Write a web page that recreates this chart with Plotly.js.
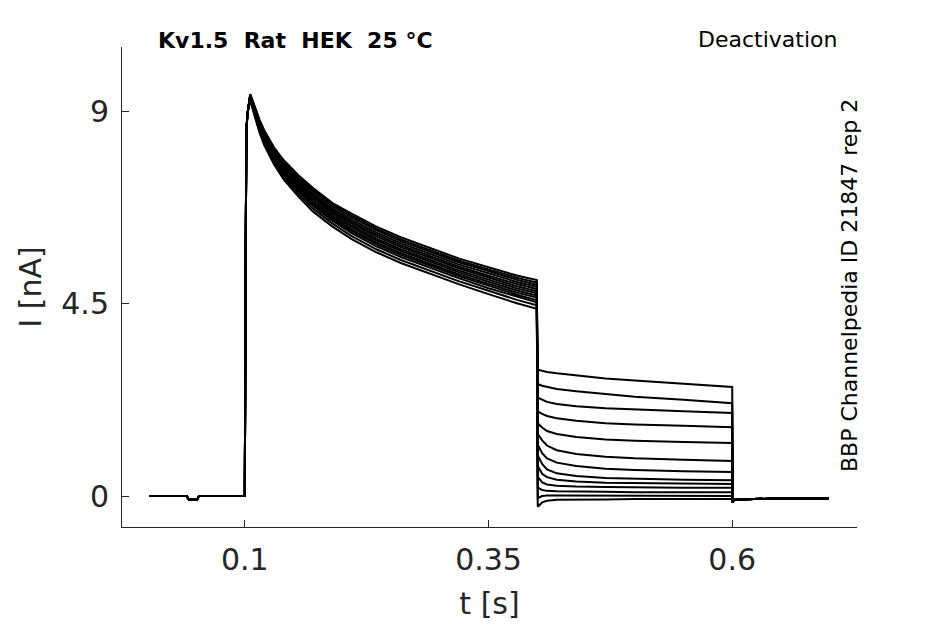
<!DOCTYPE html>
<html>
<head>
<meta charset="utf-8">
<script src="https://cdn.plot.ly/plotly-3.0.1.min.js"></script>
<style>html,body{margin:0;padding:0;background:#fff;}#chart{width:945px;height:624px;}</style>
</head>
<body>
<div id="chart"></div>
<script>
// ---- time bases (s) ----
const tBase  = [0.002, 0.040, 0.043, 0.051, 0.053, 0.0995];
const iBase  = [0, 0, -0.09, -0.09, 0, 0];
const tRise  = [0.1, 0.1005, 0.101, 0.1015, 0.1025, 0.1035, 0.1045];
const iRise  = [0, 3.5, 7.2, 8.4, 8.9, 9.1, 9.2];
const tDecay = [0.1055, 0.108, 0.111, 0.115, 0.12, 0.13, 0.14, 0.155, 0.17, 0.19, 0.21, 0.235, 0.26, 0.29, 0.32, 0.35, 0.38, 0.3995];
const tTail  = [0.4005, 0.405, 0.41, 0.42, 0.44, 0.47, 0.5, 0.55, 0.6];
const tPost  = [0.6005, 0.602, 0.65, 0.699];
const iPost  = [-0.15, -0.08, -0.06, -0.06];

// ---- decay phase currents (nA), one array per sweep ----
const decay1  = [9.33,9.16,8.94,8.67,8.39,7.97,7.64,7.27,6.95,6.60,6.32,6.02,5.77,5.52,5.27,5.06,4.85,4.74];
const decay2  = [9.39,9.23,9.03,8.78,8.52,8.12,7.81,7.46,7.16,6.81,6.55,6.25,6.00,5.75,5.50,5.30,5.10,4.99];
const decay3  = [9.28,9.10,8.86,8.57,8.28,7.84,7.50,7.12,6.78,6.43,6.14,5.84,5.59,5.34,5.09,4.86,4.65,4.53];
const decay4  = [9.40,9.25,9.05,8.80,8.55,8.15,7.85,7.50,7.20,6.85,6.60,6.30,6.05,5.80,5.55,5.35,5.15,5.05];
const decay5  = [9.31,9.13,8.90,8.61,8.33,7.90,7.57,7.19,6.86,6.51,6.23,5.93,5.68,5.43,5.18,4.96,4.75,4.64];
const decay6  = [9.35,9.19,8.97,8.71,8.44,8.03,7.71,7.35,7.03,6.68,6.41,6.11,5.86,5.61,5.36,5.15,4.95,4.84];
const decay7  = [9.27,9.07,8.83,8.54,8.24,7.80,7.45,7.06,6.72,6.37,6.07,5.77,5.52,5.27,5.02,4.80,4.58,4.46];
const decay8  = [9.38,9.22,9.01,8.76,8.50,8.09,7.78,7.43,7.12,6.77,6.51,6.21,5.96,5.71,5.46,5.26,5.05,4.94];
const decay9  = [9.32,9.14,8.92,8.64,8.36,7.93,7.61,7.23,6.90,6.55,6.28,5.98,5.73,5.48,5.23,5.01,4.80,4.69];
const decay10 = [9.25,9.05,8.80,8.50,8.20,7.75,7.40,7.00,6.65,6.30,6.00,5.70,5.45,5.20,4.95,4.72,4.50,4.38];
const decay11 = [9.37,9.20,8.99,8.73,8.47,8.06,7.75,7.39,7.07,6.72,6.46,6.16,5.91,5.66,5.41,5.21,5.00,4.89];
const decay12 = [9.30,9.11,8.88,8.59,8.31,7.87,7.54,7.16,6.82,6.47,6.19,5.89,5.64,5.39,5.14,4.92,4.70,4.58];
const decay13 = [9.34,9.17,8.96,8.69,8.42,8.00,7.68,7.31,6.99,6.64,6.37,6.07,5.82,5.57,5.32,5.11,4.90,4.79];

// ---- tail currents (nA), one array per sweep ----
const tail1  = [2.95, 2.93, 2.90, 2.87, 2.82, 2.75, 2.70, 2.62, 2.55];
const tail2  = [2.62, 2.58, 2.55, 2.50, 2.45, 2.38, 2.32, 2.25, 2.17];
const tail3  = [2.30, 2.25, 2.20, 2.15, 2.10, 2.05, 2.02, 1.98, 1.94];
const tail4  = [1.98, 1.92, 1.87, 1.82, 1.76, 1.70, 1.67, 1.64, 1.61];
const tail5  = [1.70, 1.60, 1.52, 1.45, 1.38, 1.32, 1.29, 1.26, 1.24];
const tail6  = [1.45, 1.30, 1.18, 1.07, 0.98, 0.92, 0.88, 0.85, 0.82];
const tail7  = [1.20, 1.00, 0.88, 0.78, 0.70, 0.64, 0.61, 0.58, 0.56];
const tail8  = [0.95, 0.75, 0.62, 0.53, 0.47, 0.42, 0.40, 0.38, 0.37];
const tail9  = [0.70, 0.52, 0.44, 0.38, 0.34, 0.31, 0.30, 0.29, 0.28];
const tail10 = [0.45, 0.32, 0.27, 0.24, 0.22, 0.21, 0.20, 0.19, 0.19];
const tail11 = [0.20, 0.14, 0.12, 0.11, 0.10, 0.10, 0.09, 0.09, 0.09];
const tail12 = [-0.05, 0.00, 0.01, 0.01, 0.01, 0.00, 0.00, 0.00, 0.00];
const tail13 = [-0.25, -0.15, -0.11, -0.09, -0.08, -0.08, -0.07, -0.07, -0.07];

const xTicks = [0.1, 0.35, 0.6];
const xTickText = ['0.1', '0.35', '0.6'];
const yTicks = [0, 4.5, 9];
const yTickText = ['0', '4.5', '9'];

const decays = [decay1,decay2,decay3,decay4,decay5,decay6,decay7,decay8,decay9,decay10,decay11,decay12,decay13];
const tails  = [tail1,tail2,tail3,tail4,tail5,tail6,tail7,tail8,tail9,tail10,tail11,tail12,tail13];

const xAll = [].concat(tBase, tRise, tDecay, tTail, tPost);
const traces = decays.map((d, k) => ({
  type: 'scatter',
  mode: 'lines',
  x: xAll,
  y: [].concat(iBase, iRise, d, tails[k], iPost),
  line: {color: '#000000', width: 2},
  hoverinfo: 'skip',
  showlegend: false
}));

const FONT = 'DejaVu Sans, sans-serif';
const GREY = '#262626';

const layout = {
  width: 945, height: 624, autosize: false,
  margin: {l: 122, r: 88, t: 47, b: 97, pad: 0},
  paper_bgcolor: '#ffffff', plot_bgcolor: '#ffffff',
  font: {family: FONT, color: GREY},
  title: {
    text: 'Kv1.5\u00a0\u00a0Rat\u00a0\u00a0HEK\u00a0\u00a025\u00a0°C',
    font: {family: FONT, size: 22, color: '#000000', weight: 'bold'},
    xref: 'container', yref: 'container',
    x: 158/945, xanchor: 'left', y: 1 - 40/624, yanchor: 'middle'
  },
  xaxis: {
    range: [-0.026, 0.728],
    tickmode: 'array', tickvals: xTicks, ticktext: xTickText,
    ticks: 'inside', ticklen: 7, tickwidth: 1, tickcolor: GREY,
    showline: true, linecolor: GREY, linewidth: 1, mirror: false,
    showgrid: false, zeroline: false,
    tickfont: {family: FONT, size: 30, color: GREY},
    ticklabelstandoff: 6,
    title: {text: 't [s]', font: {family: FONT, size: 30, color: GREY}, standoff: 16}
  },
  yaxis: {
    range: [-0.725, 10.5],
    tickmode: 'array', tickvals: yTicks, ticktext: yTickText,
    ticks: 'inside', ticklen: 7, tickwidth: 1, tickcolor: GREY,
    showline: true, linecolor: GREY, linewidth: 1, mirror: false,
    showgrid: false, zeroline: false,
    tickfont: {family: FONT, size: 30, color: GREY},
    ticklabelstandoff: 6,
    title: {text: 'I [nA]', font: {family: FONT, size: 30, color: GREY}, standoff: 10}
  },
  annotations: [
    {text: 'Deactivation', xref: 'paper', yref: 'paper',
     x: (839-122)/735, xanchor: 'right', y: (527-39)/480, yanchor: 'middle',
     showarrow: false, font: {family: FONT, size: 22, color: '#000000'}},
    {text: 'BBP Channelpedia ID 21847 rep 2', xref: 'paper', yref: 'paper',
     x: (849-122)/735, xanchor: 'center', y: (527-286)/480, yanchor: 'middle',
     textangle: -90, showarrow: false, font: {family: FONT, size: 22, color: '#000000'}}
  ]
};

Plotly.newPlot('chart', traces, layout, {displayModeBar: false, staticPlot: true});
</script>
</body>
</html>
